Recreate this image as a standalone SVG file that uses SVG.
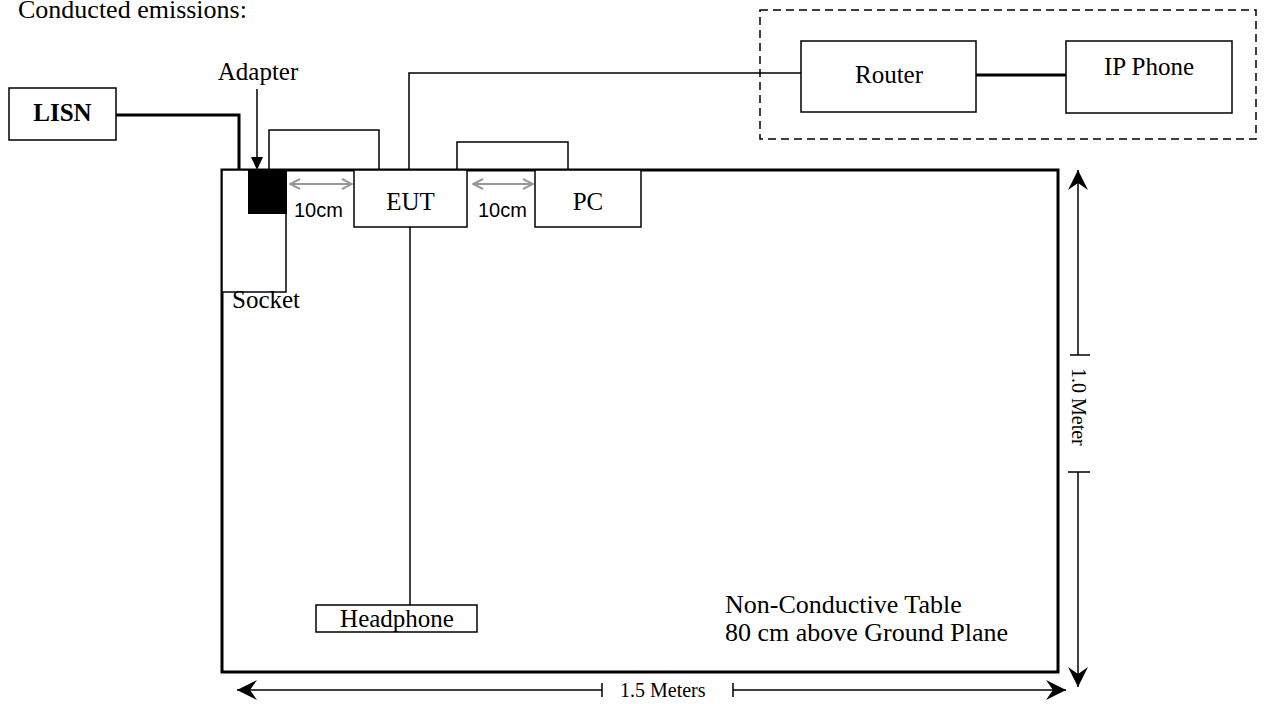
<svg xmlns="http://www.w3.org/2000/svg" width="1277" height="704" viewBox="0 0 1277 704">
<style>
  text { font-family: "Liberation Serif", "Times New Roman", serif; fill: #000; }
  .lbl { font-size: 25px; }
  .mid { text-anchor: middle; }
  .box { fill: #fff; stroke: #000; stroke-width: 1.5; }
  .wire { fill: none; stroke: #000; stroke-width: 1.5; }
  .thick { fill: none; stroke: #000; stroke-width: 3; }
  .gray { fill: none; stroke: #999; stroke-width: 2; }
  .dim { fill: none; stroke: #000; stroke-width: 1.5; }
  .cm { font-family: "Liberation Sans", Arial, sans-serif; font-size: 20px; }
  .note { font-size: 26px; }
  .dimtxt { font-size: 20px; }
</style>
<defs>
  <marker id="garrow" viewBox="0 0 12 12" refX="11" refY="6" markerWidth="12" markerHeight="12" markerUnits="userSpaceOnUse" orient="auto-start-reverse">
    <path d="M1 1 L11 6 L1 11" fill="none" stroke="#999" stroke-width="2"/>
  </marker>
  <marker id="barb" viewBox="0 0 22 22" refX="21" refY="11" markerWidth="22" markerHeight="22" markerUnits="userSpaceOnUse" orient="auto-start-reverse">
    <path d="M21 11 L1 1 L8 11 L1 21 Z" fill="#000"/>
  </marker>
</defs>

<text x="18" y="18" class="note">Conducted emissions:</text>

<g id="table">
  <rect x="222" y="170" width="836" height="502" fill="none" stroke="#000" stroke-width="3"/>
  <text x="725" y="613" class="note">Non-Conductive Table</text>
  <text x="725" y="641" class="note">80 cm above Ground Plane</text>
</g>

<g id="connectors">
  <path class="thick" d="M116 115 H239 V170"/>
  <path class="wire" d="M409 170 V73 H801"/>
  <path class="thick" d="M976 75 H1066"/>
  <path class="wire" d="M410 227 V605"/>
  <path class="wire" d="M269 170 V130 H379 V170"/>
  <path class="wire" d="M457 170 V142 H568 V170"/>
</g>

<g id="lisn">
  <rect class="box" x="9" y="88" width="107" height="52"/>
  <text class="lbl mid" x="62.5" y="121" font-weight="bold">LISN</text>
</g>

<g id="socket">
  <rect class="box" x="222" y="170" width="64" height="122"/>
  <text class="lbl" x="232" y="308">Socket</text>
</g>

<g id="adapter">
  <rect x="248" y="170" width="39" height="44" fill="#000"/>
  <text class="lbl mid" x="258" y="80">Adapter</text>
  <line x1="257" y1="89" x2="257" y2="158" stroke="#000" stroke-width="1.5"/>
  <path d="M251 157 L263 157 L257 170 Z" fill="#000"/>
</g>

<g id="eut">
  <rect class="box" x="354" y="170" width="113" height="57"/>
  <text class="lbl mid" x="410.5" y="210">EUT</text>
</g>

<g id="pc">
  <rect class="box" x="535" y="170" width="106" height="57"/>
  <text class="lbl mid" x="588" y="210">PC</text>
</g>

<g id="spacing">
  <line class="gray" x1="290" y1="184" x2="352" y2="184" marker-start="url(#garrow)" marker-end="url(#garrow)"/>
  <text class="cm" x="294" y="217">10cm</text>
  <line class="gray" x1="473" y1="184" x2="533" y2="184" marker-start="url(#garrow)" marker-end="url(#garrow)"/>
  <text class="cm" x="478" y="217">10cm</text>
</g>

<g id="network">
  <rect x="760" y="10" width="496" height="129" fill="none" stroke="#000" stroke-width="1.5" stroke-dasharray="8 5"/>
</g>

<g id="router">
  <rect class="box" x="801" y="41" width="175" height="71"/>
  <text class="lbl mid" x="889" y="83">Router</text>
</g>

<g id="ipphone">
  <rect class="box" x="1066" y="41" width="166" height="72"/>
  <text class="lbl mid" x="1149" y="75">IP Phone</text>
</g>

<g id="headphone">
  <rect class="box" x="316" y="605" width="161" height="27"/>
  <text class="lbl mid" x="397" y="627">Headphone</text>
</g>

<g id="dim-width">
  <line class="dim" x1="602" y1="690" x2="237" y2="690" marker-end="url(#barb)"/>
  <line class="dim" x1="602" y1="683" x2="602" y2="697"/>
  <text x="620" y="697" class="dimtxt">1.5 Meters</text>
  <line class="dim" x1="733" y1="690" x2="1066" y2="690" marker-end="url(#barb)"/>
  <line class="dim" x1="733" y1="683" x2="733" y2="697"/>
</g>

<g id="dim-height">
  <line class="dim" x1="1078" y1="355" x2="1078" y2="170" marker-end="url(#barb)"/>
  <line class="dim" x1="1070" y1="355" x2="1090" y2="355"/>
  <text x="0" y="0" transform="translate(1072 368) rotate(90)" class="dimtxt">1.0 Meter</text>
  <line class="dim" x1="1078" y1="472" x2="1078" y2="687" marker-end="url(#barb)"/>
  <line class="dim" x1="1068" y1="472" x2="1090" y2="472"/>
</g>
</svg>
